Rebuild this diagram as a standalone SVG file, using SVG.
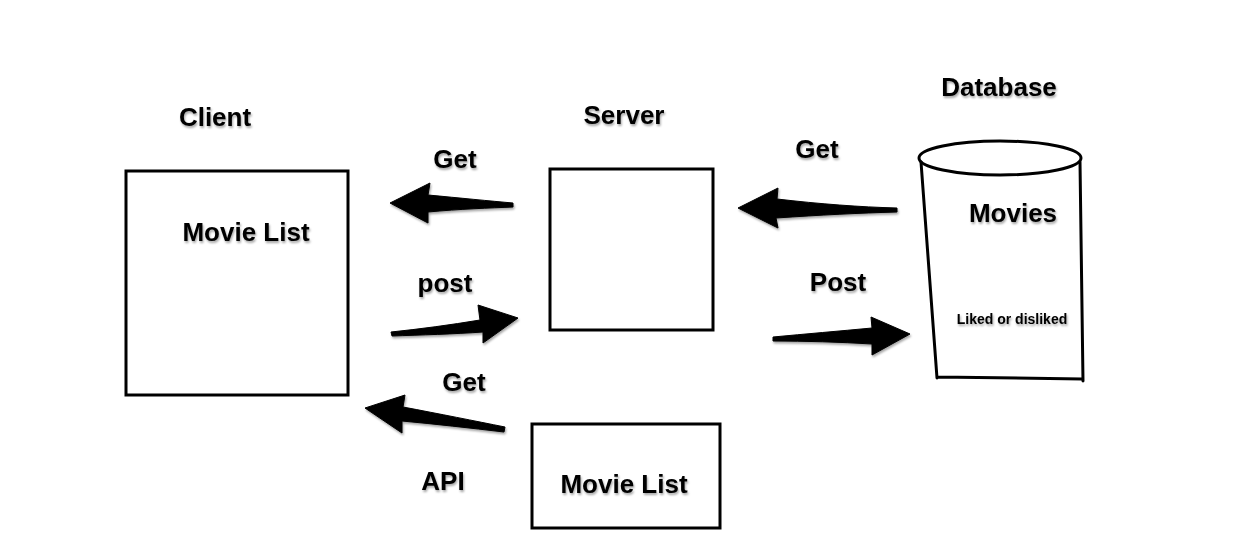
<svg xmlns="http://www.w3.org/2000/svg" width="1240" height="544" viewBox="0 0 1240 544">
<defs>
<filter id="sh" x="-20%" y="-30%" width="140%" height="170%">
<feDropShadow dx="1" dy="2" stdDeviation="1.2" flood-color="#000" flood-opacity="0.35"/>
</filter>
</defs>
<style>
.lbl{font-family:"Liberation Sans",Arial,sans-serif;font-weight:bold;font-size:26px;fill:#000;text-anchor:middle;filter:url(#sh)}
.sm{font-size:14px}
.box{fill:#fff;stroke:#000;stroke-width:3}
.ln{fill:none;stroke:#000;stroke-width:3;stroke-linecap:round}
.arr{fill:#000;stroke:#000;stroke-width:1;stroke-linejoin:round;filter:url(#sh)}
</style>
<rect width="1240" height="544" fill="#fff"/>
<g id="client">
<rect class="box" x="126" y="171" width="222" height="224"/>
<text class="lbl" x="215" y="126">Client</text>
<text class="lbl" x="246" y="241">Movie List</text>
</g>
<g id="server">
<rect class="box" x="550" y="169" width="163" height="161"/>
<text class="lbl" x="624" y="124">Server</text>
</g>
<g id="database">
<ellipse class="ln" cx="1000" cy="158" rx="81" ry="17"/>
<path class="ln" d="M921,162 L937,378 M1080,162 L1083,381 M937,377 L1082,379"/>
<text class="lbl" x="999" y="96">Database</text>
<text class="lbl" x="1013" y="222">Movies</text>
<text class="lbl sm" x="1012" y="324">Liked or disliked</text>
</g>
<g id="api">
<rect class="box" x="532" y="424" width="188" height="104"/>
<text class="lbl" x="624" y="493">Movie List</text>
<text class="lbl" x="443" y="490">API</text>
</g>
<g id="connectors">
<path class="arr" d="M390,203 L430,183 L428,195 C460,198 490,201 513,203 L513,207 C490,208 460,209 428,212 L428,223 Z"/>
<path class="arr" d="M518,318 L478,305 L480,320 C450,325 420,329 391,332 L392,336 C420,335 455,334 483,332 L483,343 Z"/>
<path class="arr" d="M910,334 L871,317 L872,328 C840,331 805,334 773,337 L773,341 C805,341 840,342 872,344 L872,355 Z"/>
<path class="arr" d="M365,408 L405,395 L403,407 C440,414 475,421 505,427 L504,432 C470,428 435,424 402,421 L402,433 Z"/>
<path class="arr" d="M738,208 L778,188 L777,199 C820,204 860,207 897,208 L897,212 C860,213 820,215 776,218 L778,228 Z"/>
<text class="lbl" x="455" y="168">Get</text>
<text class="lbl" x="817" y="158">Get</text>
<text class="lbl" x="445" y="292">post</text>
<text class="lbl" x="838" y="291">Post</text>
<text class="lbl" x="464" y="391">Get</text>
</g>
</svg>
